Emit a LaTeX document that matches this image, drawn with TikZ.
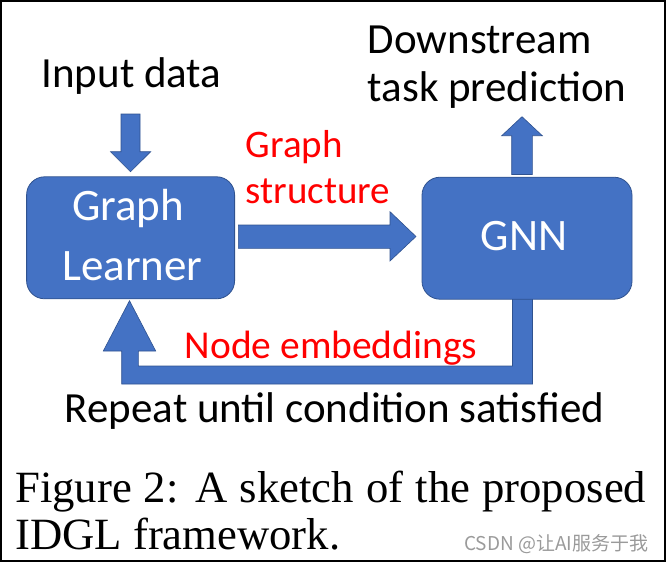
\documentclass[tikz,border=0pt]{standalone}
\usepackage{fontspec}
\setmainfont{Carlito}
\newfontfamily\capfont{Liberation Serif}
\newfontfamily\cjkfont{Noto Sans CJK SC}
\definecolor{boxblue}{HTML}{4472C4}
\definecolor{edgeblue}{HTML}{2F528F}
\definecolor{lblred}{HTML}{FF0000}
\definecolor{wmgray}{HTML}{9A9A9A}
\begin{document}
\begin{tikzpicture}[x=1pt,y=-1pt,
  box/.style={fill=boxblue,draw=edgeblue,line width=0.8pt,rounded corners=18pt,minimum width=208pt,minimum height=122pt,inner sep=0pt},
  blk/.style={fill=boxblue,draw=edgeblue,line width=0.6pt,line join=miter},
  blacktxt/.style={font=\fontsize{43}{46}\selectfont,text=black,inner sep=0pt,anchor=base},
  whitetxt/.style={font=\fontsize{45}{54}\selectfont,text=white,inner sep=0pt,anchor=base},
  redtxt/.style={font=\fontsize{39}{46}\selectfont,text=lblred,inner sep=0pt,anchor=base},
  captxt/.style={font=\capfont\fontsize{44.7}{47}\selectfont,text=black,inner sep=0pt,anchor=base west},
  wmtxt/.style={font=\cjkfont\fontsize{19}{22}\selectfont,text=wmgray,inner sep=0pt,anchor=base west}]
\useasboundingbox (0,0) rectangle (666,563);
\draw[line width=2pt] (1,1) rectangle (664.5,560.5);
% feedback loop (drawn first so the GNN box covers its top)
\draw[blk] (512.5,296) -- (532.5,296) -- (532.5,384) -- (121.7,384) -- (121.7,351) -- (103.3,351) -- (129.5,300.7) -- (155.7,351) -- (138.3,351) -- (138.3,366) -- (512.5,366) -- cycle;
% boxes
\node[box] (gl) at (130.6,237.8) {};
\node[box,minimum width=210pt] (gnn) at (527,238.2) {};
\node[whitetxt] (glA) at (128,220) {Graph};
\node[whitetxt] (glB) at (132.5,280) {Learner};
\node[whitetxt] (gnnt) at (524,250.7) {GNN};
% block arrows
\draw[blk] (121,114) -- (140,114) -- (140,151.7) -- (150.7,151.7) -- (130.5,171.7) -- (110.5,151.7) -- (121,151.7) -- cycle;
\draw[blk] (238.3,225) -- (390,225) -- (390,211.7) -- (416,236.5) -- (390,261) -- (390,248.3) -- (238.3,248.3) -- cycle;
\draw[blk] (511.7,174.5) -- (511.7,135.7) -- (501.7,135.7) -- (522,116.7) -- (542.3,135.7) -- (532.3,135.7) -- (532.3,174.5) -- cycle;
% labels
\node[blacktxt] (in) at (131.5,87.3) {Input data};
\node[blacktxt,anchor=base west] (dsA) at (367.5,53) {Downstream};
\node[blacktxt,anchor=base west] (dsB) at (367.5,101.5) {task prediction};
\node[redtxt,anchor=base west] (gsA) at (245.5,157) {Graph};
\node[redtxt,anchor=base west] (gsB) at (245.5,203) {structure};
\node[redtxt,font=\fontsize{39.5}{46}\selectfont] (ne) at (331,358) {Node embeddings};
\node[blacktxt] (rep) at (334.5,422.5) {Repeat until condition satisfied};
% caption
\node[captxt] (capA) at (15,502.5) {\makebox[631pt][s]{Figure 2: A sketch of the proposed}};
\node[captxt] (capB) at (15,549.5) {IDGL framework.};
\node[wmtxt] (wm) at (464,550.7) {CSDN @让AI服务于我};
\end{tikzpicture}
\end{document}
